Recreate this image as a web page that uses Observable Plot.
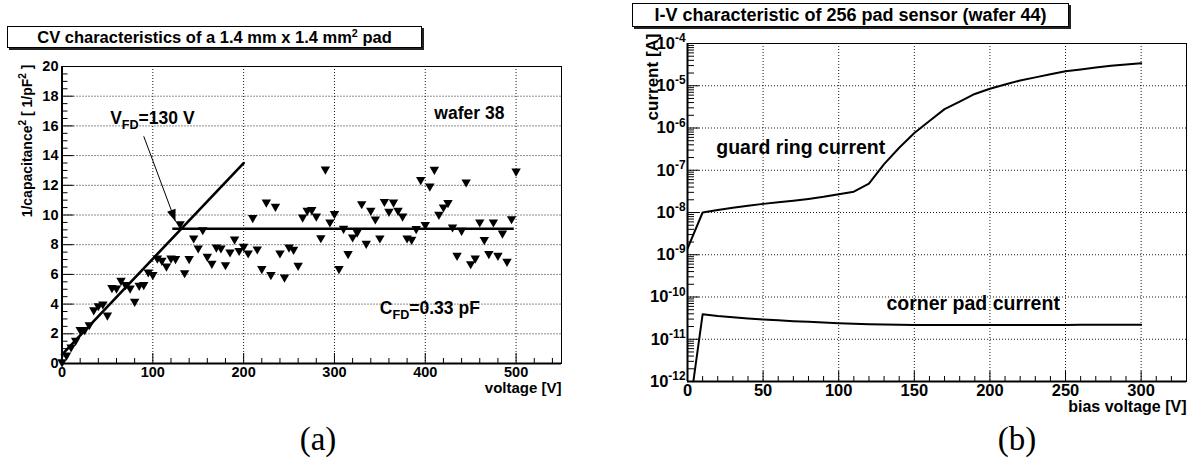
<!DOCTYPE html>
<html>
<head>
<meta charset="utf-8">
<script src="https://cdn.jsdelivr.net/npm/d3@7"></script>
<script src="https://cdn.jsdelivr.net/npm/@observablehq/plot@0.6"></script>
<style>
  html, body { margin: 0; padding: 0; background: #fff; }
  #page { position: relative; width: 1189px; height: 462px; overflow: hidden;
          font-family: "Liberation Sans", Arial, sans-serif; color: #000; }
  .panel { position: absolute; top: 0; }
  .title { position: absolute; box-sizing: border-box; border: 1px solid #000;
           box-shadow: 2px 2px 0 #222; background: #fff; font-weight: bold;
           text-align: center; white-space: nowrap; z-index: 2; }
  .title sup { font-size: 65%; vertical-align: 0; position: relative; top: -0.55em; line-height: 0; }
  .caption { position: absolute; font-family: "Liberation Serif", "DejaVu Serif", serif;
             font-size: 33px; line-height: 33px; transform: translateX(-50%); }
</style>
</head>
<body>
<div id="page">
  <div id="panelA" class="panel" style="left:0px"></div>
  <div id="panelB" class="panel" style="left:600px"></div>
  <div class="title" style="left:7px;top:26px;width:415px;height:22px;line-height:20px;font-size:16.5px">CV characteristics of a 1.4 mm x 1.4 mm<sup>2</sup> pad</div>
  <div class="title" style="left:632px;top:3px;width:437px;height:24px;line-height:22px;font-size:18px">I-V characteristic of 256 pad sensor (wafer 44)</div>
  <div class="caption" style="left:318px;top:423px">(a)</div>
  <div class="caption" style="left:1017px;top:423px">(b)</div>
</div>
<script>
// ---------- (a) C-V scan of a 1.4 mm x 1.4 mm pad, wafer 38 ----------
const cvVoltage = [
  0, 5, 10, 15, 20, 25, 30, 35, 40, 45,
  50, 55, 60, 65, 70, 75, 80, 85, 90, 95,
  100, 105, 110, 115, 120, 125, 130, 135, 140, 145,
  150, 155, 160, 165, 170, 175, 180, 185, 190, 195,
  200, 205, 210, 215, 220, 225, 230, 235, 240, 245,
  250, 255, 260, 265, 270, 275, 280, 285, 290, 295,
  300, 305, 310, 315, 320, 325, 330, 335, 340, 345,
  350, 355, 360, 365, 370, 375, 380, 385, 390, 395,
  400, 405, 410, 415, 420, 425, 430, 435, 440, 445,
  450, 455, 460, 465, 470, 475, 480, 485, 490, 495,
  500
];
const cvInvC2 = [
  0.1, 0.55, 1.1, 1.55, 2.28, 2.27, 2.6, 3.6, 3.88, 4.0,
  3.25, 5.1, 5.07, 5.59, 5.3, 5.07, 4.17, 5.25, 5.3, 6.15,
  5.97, 7.09, 6.94, 6.55, 7.09, 7.05, 9.4, 6.1, 7.05, 8.44,
  7.77, 9.0, 7.2, 6.73, 7.83, 7.77, 6.64, 7.5, 8.37, 7.6,
  7.88, 7.43, 9.81, 7.7, 6.38, 10.86, 5.97, 10.57, 7.43, 5.81,
  7.83, 7.68, 6.6, 9.85, 10.3, 10.35, 9.92, 8.46, 13.08, 9.52,
  10.08, 6.38, 9.09, 7.39, 8.51, 8.84, 10.75, 8.08, 10.3, 9.72,
  8.44, 10.9, 10.24, 10.86, 10.3, 9.92, 8.44, 8.35, 9.07, 12.37,
  9.34, 11.94, 13.06, 10.03, 10.53, 10.82, 9.18, 7.27, 8.96, 12.21,
  6.71, 7.09, 9.52, 8.33, 7.39, 9.52, 7.27, 8.77, 6.87, 9.74,
  12.95
];
// straight-line fit of the rising part and the plateau level
const riseIntercept = 0.6;
const riseSlope = 0.0645;
const riseRange = [0, 200];
const plateauLevel = 9.07;
const plateauRange = [122, 498];
const cvXTicks = [0, 100, 200, 300, 400, 500];
const cvYTicks = [0, 2, 4, 6, 8, 10, 12, 14, 16, 18, 20];
const cvXDomain = [0, 550];
const cvYDomain = [0, 20];
const cvNotes = [
  {text: "V_{FD}=130 V", v: 53, c: 16.14},
  {text: "wafer 38", v: 410, c: 16.48},
  {text: "C_{FD}=0.33 pF", v: 350, c: 3.35}
];
const vfdArrow = {v1: 90, c1: 15.3, v2: 125, c2: 9.56};

// ---------- (b) I-V scan of the 256 pad sensor, wafer 44 ----------
const ivVoltage = [0, 10, 20, 30, 40, 50, 60, 70, 80, 90, 100, 110, 120, 130, 140, 150,
  160, 170, 180, 190, 200, 210, 220, 230, 240, 250, 260, 270, 280, 290, 300];
const guardRing = [1.4e-9, 1.0e-8, 1.15e-8, 1.3e-8, 1.45e-8, 1.6e-8, 1.75e-8, 1.9e-8, 2.1e-8,
  2.35e-8, 2.7e-8, 3.1e-8, 4.8e-8, 1.4e-7, 3.4e-7, 7.6e-7, 1.47e-6, 2.8e-6, 4.2e-6, 6.4e-6,
  8.5e-6, 1.07e-5, 1.33e-5, 1.58e-5, 1.87e-5, 2.2e-5, 2.43e-5, 2.69e-5, 2.96e-5, 3.18e-5, 3.42e-5];
const cornerPad = [1e-13, 3.9e-11, 3.55e-11, 3.3e-11, 3.1e-11, 2.95e-11, 2.8e-11, 2.68e-11,
  2.58e-11, 2.48e-11, 2.4e-11, 2.33e-11, 2.27e-11, 2.22e-11, 2.19e-11, 2.17e-11, 2.16e-11,
  2.16e-11, 2.16e-11, 2.16e-11, 2.17e-11, 2.17e-11, 2.17e-11, 2.18e-11, 2.18e-11, 2.18e-11,
  2.19e-11, 2.19e-11, 2.19e-11, 2.2e-11, 2.2e-11];
const ivXTicks = [0, 50, 100, 150, 200, 250, 300];
const ivDecades = [1e-12, 1e-11, 1e-10, 1e-9, 1e-8, 1e-7, 1e-6, 1e-5, 1e-4];
const ivXDomain = [0, 330];
const ivNotes = [
  {text: "guard ring current", v: 19, i: 2.36e-7},
  {text: "corner pad current", v: 131.6, i: 4.8e-11}
];

// ---------- helpers ----------
const FONT = '"Liberation Sans", Arial, sans-serif';
const dotted = {stroke: "#000", strokeOpacity: 0.9, strokeWidth: 1, strokeDasharray: "1,2"};

// Turns "_{..}" / "^{..}" markup inside SVG text into sub/superscript tspans.
function richText(root) {
  root.querySelectorAll("text").forEach((el) => {
    const s = el.textContent;
    if (!/[_^]\{/.test(s)) return;
    const size = parseFloat(getComputedStyle(el).fontSize);
    el.textContent = "";
    let shift = 0;
    for (const part of s.split(/([_^]\{[^}]*\})/)) {
      if (!part) continue;
      const m = /^([_^])\{(.*)\}$/.exec(part);
      const t = document.createElementNS("http://www.w3.org/2000/svg", "tspan");
      const target = m ? (m[1] === "_" ? 0.3 * size : -0.4 * size) : 0;
      if (target !== shift) t.setAttribute("dy", target - shift);
      shift = target;
      if (m) { t.setAttribute("font-size", 0.72 * size); t.textContent = m[2]; }
      else t.textContent = part;
      el.appendChild(t);
    }
  });
}

// ---------- panel (a) ----------
const A = {width: 590, height: 400, marginLeft: 61.5, marginRight: 29, marginTop: 66, marginBottom: 37};
const aW = A.width - A.marginLeft - A.marginRight;
const aH = A.height - A.marginTop - A.marginBottom;
const cvPoints = cvVoltage.map((v, i) => ({v, c: cvInvC2[i]}));
const risePoints = riseRange.map((v) => ({v, c: riseIntercept + riseSlope * v}));
const cvXMinor = d3.range(cvXDomain[0], cvXDomain[1] + 1, 20).filter((v) => v % 100 !== 0);
const cvYMinor = d3.range(cvYDomain[0], cvYDomain[1], 0.5).filter((v) => v % 2 !== 0);

const sx = Plot.scale({x: {domain: cvXDomain, range: [A.marginLeft, A.width - A.marginRight]}});
const sy = Plot.scale({y: {domain: cvYDomain, range: [A.height - A.marginBottom, A.marginTop]}});
const arrowAngle = Math.atan2(
  -(sx.apply(vfdArrow.v2) - sx.apply(vfdArrow.v1)),
  sy.apply(vfdArrow.c2) - sy.apply(vfdArrow.c1)
) * 180 / Math.PI;
// filled arrowhead: tip at the origin, pointing along +y
const arrowHead = {draw(ctx) { ctx.moveTo(0, 0); ctx.lineTo(-4.5, -12); ctx.lineTo(4.5, -12); ctx.closePath(); }};

const plotA = Plot.plot({
  ...A,
  style: {fontFamily: FONT, fontWeight: "bold", fontSize: "14.5px", color: "#000", background: "none", overflow: "visible"},
  x: {domain: cvXDomain},
  y: {domain: cvYDomain},
  marks: [
    Plot.gridX(cvXTicks.filter((v) => v > cvXDomain[0]), dotted),
    Plot.gridY(cvYTicks.filter((c) => c > cvYDomain[0] && c < cvYDomain[1]), dotted),
    Plot.ruleX(cvXMinor, {insetTop: aH - 5, stroke: "#000"}),
    Plot.ruleX(cvXTicks, {insetTop: aH - 10, stroke: "#000"}),
    Plot.ruleY(cvYMinor, {insetRight: aW - 6, stroke: "#000"}),
    Plot.ruleY(cvYTicks, {insetRight: aW - 12, stroke: "#000"}),
    Plot.frame({stroke: "#000", strokeWidth: 1}),
    Plot.ruleX([cvXDomain[0]], {stroke: "#000", strokeWidth: 2}),
    Plot.ruleY([cvYDomain[0]], {stroke: "#000", strokeWidth: 2}),
    Plot.line(risePoints, {x: "v", y: "c", stroke: "#000", strokeWidth: 2.6}),
    Plot.ruleY([{c: plateauLevel, v1: plateauRange[0], v2: plateauRange[1]}], {y: "c", x1: "v1", x2: "v2", stroke: "#000", strokeWidth: 2.6}),
    Plot.dot(cvPoints, {x: "v", y: "c", symbol: "triangle", rotate: 180, r: 3.5, fill: "#000", stroke: "none"}),
    Plot.link([vfdArrow], {x1: "v1", y1: "c1", x2: "v2", y2: "c2", stroke: "#000", strokeWidth: 1}),
    Plot.dot([vfdArrow], {x: "v2", y: "c2", symbol: arrowHead, rotate: arrowAngle, fill: "#000", stroke: "none"}),
    Plot.text(cvNotes, {x: "v", y: "c", text: "text", textAnchor: "start", lineAnchor: "bottom", fontSize: 17.5, fill: "#000"}),
    Plot.axisX(cvXTicks, {tickSize: 0, tickPadding: 3.5, label: null}),
    Plot.axisY(cvYTicks, {tickSize: 0, tickPadding: 3.5, label: null}),
    Plot.text(["1/capacitance^{2} [ 1/pF^{2} ]"], {frameAnchor: "top-left", dx: -30.5, dy: -2, rotate: -90, textAnchor: "end", lineAnchor: "bottom", fontSize: 14, fill: "#000"}),
    Plot.text(["voltage [V]"], {frameAnchor: "bottom-right", dy: 29.5, textAnchor: "end", lineAnchor: "bottom", fontSize: 15, fill: "#000"})
  ]
});
document.getElementById("panelA").appendChild(plotA);
richText(plotA);

// ---------- panel (b) ----------
const B = {width: 589, height: 420, marginLeft: 87, marginRight: 3, marginTop: 43, marginBottom: 39};
const bW = B.width - B.marginLeft - B.marginRight;
const bH = B.height - B.marginTop - B.marginBottom;
const guardPoints = ivVoltage.map((v, k) => ({v, i: guardRing[k]}));
const cornerPoints = ivVoltage.map((v, k) => ({v, i: cornerPad[k]}));
const ivXMinor = d3.range(ivXDomain[0], ivXDomain[1] + 1, 10).filter((v) => v % 50 !== 0);
const ivYMinor = ivDecades.slice(0, -1).flatMap((d) => d3.range(2, 10).map((k) => k * d));

const plotB = Plot.plot({
  ...B,
  style: {fontFamily: FONT, fontWeight: "bold", fontSize: "16.5px", color: "#000", background: "none", overflow: "visible"},
  x: {domain: ivXDomain},
  y: {type: "log", domain: [ivDecades[0], ivDecades[ivDecades.length - 1]]},
  marks: [
    Plot.gridX(ivXTicks.filter((v) => v > ivXDomain[0]), dotted),
    Plot.gridY(ivDecades.slice(1, -1), dotted),
    Plot.ruleX(ivXMinor, {insetTop: bH - 5, stroke: "#000"}),
    Plot.ruleX(ivXTicks, {insetTop: bH - 10, stroke: "#000"}),
    Plot.ruleY(ivYMinor, {insetRight: bW - 7, stroke: "#000"}),
    Plot.ruleY(ivDecades, {insetRight: bW - 12, stroke: "#000"}),
    Plot.frame({stroke: "#000", strokeWidth: 1}),
    Plot.ruleX([ivXDomain[0]], {stroke: "#000", strokeWidth: 2}),
    Plot.ruleY([ivDecades[0]], {stroke: "#000", strokeWidth: 2}),
    Plot.line(guardPoints, {x: "v", y: "i", stroke: "#000", strokeWidth: 2, clip: true}),
    Plot.line(cornerPoints, {x: "v", y: "i", stroke: "#000", strokeWidth: 2, clip: true}),
    Plot.text(ivNotes, {x: "v", y: "i", text: "text", textAnchor: "start", lineAnchor: "bottom", fontSize: 19.5, fill: "#000"}),
    Plot.axisX(ivXTicks, {tickSize: 0, tickPadding: 3, label: null}),
    Plot.axisY(ivDecades, {tickSize: 0, tickPadding: 2, label: null,
      tickFormat: (d) => `10^{${Math.round(Math.log10(d))}}`}),
    Plot.text(["current [A]"], {frameAnchor: "top-left", dx: -30, dy: -10, rotate: -90, textAnchor: "end", lineAnchor: "bottom", fontSize: 17, fill: "#000"}),
    Plot.text(["bias voltage [V]"], {frameAnchor: "bottom-right", dy: 30, textAnchor: "end", lineAnchor: "bottom", fontSize: 16, fill: "#000"})
  ]
});
document.getElementById("panelB").appendChild(plotB);
richText(plotB);
</script>
</body>
</html>
